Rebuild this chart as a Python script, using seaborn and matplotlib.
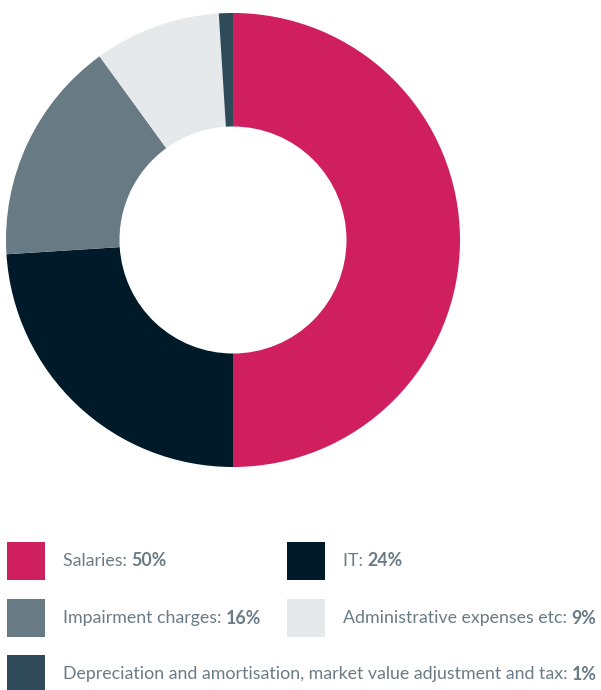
import matplotlib
matplotlib.use("Agg")
import matplotlib.pyplot as plt
from matplotlib.patches import Rectangle
import seaborn as sns

sns.set_theme(style="white")
plt.rcParams["font.family"] = ["Lato", "DejaVu Sans"]

categories = [
    "Salaries",
    "IT",
    "Impairment charges",
    "Administrative expenses etc",
    "Depreciation and amortisation, market value adjustment and tax",
]
shares = [50, 24, 16, 9, 1]
colors = ["#CF1F5E", "#011A29", "#687A83", "#E6E9EC", "#2F4B59"]

W, H = 601, 690
fig = plt.figure(figsize=(W / 100, H / 100), dpi=100)
fig.patch.set_facecolor("white")

# donut
cx, cy, r = 233, 240, 227
ax = fig.add_axes([(cx - r) / W, (H - cy - r) / H, 2 * r / W, 2 * r / H])
ax.pie(
    shares,
    colors=colors,
    startangle=90,
    counterclock=False,
    radius=1.0,
    wedgeprops=dict(width=0.5, linewidth=0),
)
ax.set_xlim(-1, 1)
ax.set_ylim(-1, 1)
ax.set_aspect("equal")
ax.axis("off")

# legend
text_color = "#6B7B85"
fs = 12.8
slots = [(7, 561), (287, 561), (7, 618), (287, 618), (7, 674)]
fig.canvas.draw()
renderer = fig.canvas.get_renderer()
for (x, y), name, val, col in zip(slots, categories, shares, colors):
    fig.patches.append(
        Rectangle((x / W, (H - y - 19) / H), 38 / W, 38 / H,
                  transform=fig.transFigure, facecolor=col, edgecolor="none")
    )
    t = fig.text((x + 56) / W, (H - y) / H, f"{name}: ", fontsize=fs,
                 color=text_color, va="center", ha="left")
    bb = t.get_window_extent(renderer=renderer)
    fig.text(bb.x1 / W, (H - y) / H, f"{val}%", fontsize=fs,
             color=text_color, va="center", ha="left", fontweight="bold")

fig.savefig("out.png", dpi=100, facecolor="white")
